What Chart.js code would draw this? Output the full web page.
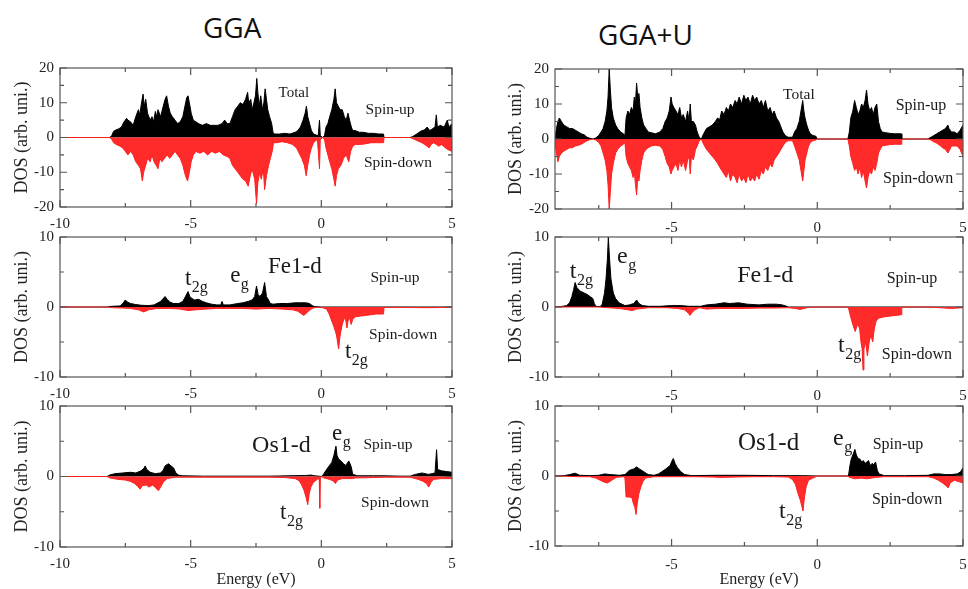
<!DOCTYPE html>
<html><head><meta charset="utf-8">
<script src="https://cdn.jsdelivr.net/npm/chart.js@4.4.1/dist/chart.umd.min.js"></script>
<style>
html,body{margin:0;padding:0;background:#fff;}
#wrap{position:relative;width:968px;height:589px;overflow:hidden;background:#fff;}
canvas{position:absolute;}
.title{position:absolute;font-family:"Open Sans",sans-serif;color:#111;white-space:nowrap;line-height:1;}
</style></head><body>
<div id="wrap">
<div class="title" style="left:203px;top:13px;font-size:28px">GGA</div>
<div class="title" style="left:598px;top:20px;font-size:28px">GGA+U</div>
<canvas id="c1" width="470" height="186" style="left:0;top:50px"></canvas>
<canvas id="c2" width="470" height="177" style="left:0;top:228px"></canvas>
<canvas id="c3" width="470" height="192" style="left:0;top:397px"></canvas>
<canvas id="c4" width="478" height="186" style="left:490px;top:50px"></canvas>
<canvas id="c5" width="478" height="177" style="left:490px;top:228px"></canvas>
<canvas id="c6" width="478" height="192" style="left:490px;top:397px"></canvas>
</div>
<script>
// ---------- tick labels ----------
const ggaXTicks = [-10, -5, 0, 5];
const ggaUXTicks = [-5, 0, 5];
const xMinorTicks = [-7.5, -2.5, 2.5];
const totYTicks = [-20, -10, 0, 10, 20];
const totYMinor = [-15, -5, 5, 15];
const pdosYTicks = [-10, 0, 10];
const pdosYMinor = [-5, 5];

// ---------- GGA total DOS [E (eV), DOS] ----------
const ggaTotUp = [[-10,0],[-8.1,0],[-8.02,0.5],[-7.95,1.8],[-7.85,2.2],[-7.75,2.5],[-7.65,3],[-7.55,4.5],[-7.45,5.5],[-7.4,5],[-7.3,4.5],[-7.2,3.5],[-7.1,6],[-7.0,8],[-6.95,6.5],[-6.88,10],[-6.82,12.5],[-6.78,9],[-6.72,11],[-6.65,7],[-6.55,5],[-6.48,6],[-6.42,4.5],[-6.35,7.5],[-6.3,6],[-6.25,8],[-6.15,6],[-6.05,9],[-5.98,11],[-5.92,12],[-5.85,9],[-5.78,7],[-5.7,6],[-5.6,5],[-5.5,4],[-5.4,4.5],[-5.3,6],[-5.22,9],[-5.15,11.5],[-5.1,12],[-5.05,10],[-4.98,7],[-4.9,5],[-4.8,4.5],[-4.7,4],[-4.55,3.5],[-4.4,4],[-4.25,3.5],[-4.1,3.5],[-3.95,3.5],[-3.8,4],[-3.7,5],[-3.6,4],[-3.5,4],[-3.4,6],[-3.3,8],[-3.2,9],[-3.1,10],[-3.0,9.5],[-2.9,11],[-2.82,13],[-2.78,10],[-2.7,11],[-2.65,8],[-2.58,10],[-2.52,12],[-2.47,17],[-2.43,13],[-2.38,9],[-2.32,12],[-2.25,8],[-2.2,10],[-2.15,14],[-2.1,11],[-2.05,8],[-1.98,6],[-1.9,4],[-1.85,1.5],[-1.8,1],[-1.6,1],[-1.4,1.2],[-1.2,1],[-1.0,1.5],[-0.9,2],[-0.8,3],[-0.7,5],[-0.62,7],[-0.57,9],[-0.52,6],[-0.45,4],[-0.38,2],[-0.3,1],[-0.12,0.5],[-0.07,5],[-0.04,0.5],[0.05,0],[0.12,0.5],[0.18,3],[0.25,4],[0.32,6],[0.4,8],[0.48,11],[0.53,14],[0.58,10],[0.65,9],[0.72,8],[0.8,8],[0.88,6],[0.95,5],[1.02,7],[1.08,5],[1.15,3],[1.2,2],[1.3,2],[1.45,1.5],[1.6,1.5],[1.8,1.2],[2.0,1.2],[2.2,1],[2.38,1],[2.4,0],[3.4,0],[3.5,0.3],[3.65,1],[3.8,1.8],[3.95,2.2],[4.05,3],[4.15,2],[4.25,2.5],[4.35,3],[4.4,6.5],[4.44,3],[4.55,3.5],[4.7,3],[4.82,5],[4.88,3],[5.0,4]];
const ggaTotDn = [[-10,0],[-8.1,0],[-8.02,-0.5],[-7.95,-1.5],[-7.85,-2],[-7.7,-2.5],[-7.6,-3],[-7.5,-4],[-7.4,-5],[-7.3,-4],[-7.2,-5],[-7.1,-7],[-7.0,-8],[-6.92,-9],[-6.85,-12.5],[-6.8,-10],[-6.72,-8],[-6.65,-6],[-6.55,-7],[-6.48,-5],[-6.4,-7],[-6.32,-8],[-6.25,-9],[-6.18,-6],[-6.1,-7],[-6.0,-6],[-5.9,-5],[-5.8,-6],[-5.7,-5],[-5.6,-4],[-5.5,-5],[-5.4,-6],[-5.3,-8],[-5.2,-11],[-5.12,-12.5],[-5.05,-10],[-4.98,-7],[-4.9,-5],[-4.8,-4],[-4.65,-4.5],[-4.5,-4],[-4.35,-5],[-4.2,-4],[-4.05,-4.5],[-3.9,-4],[-3.75,-5],[-3.6,-5.5],[-3.5,-6],[-3.4,-8],[-3.3,-9],[-3.2,-10],[-3.1,-11],[-3.0,-12],[-2.9,-12.5],[-2.8,-14],[-2.72,-11],[-2.65,-9],[-2.55,-12],[-2.48,-19],[-2.43,-13],[-2.36,-10],[-2.3,-12],[-2.22,-9],[-2.17,-15],[-2.1,-11],[-2.02,-8],[-1.95,-6],[-1.88,-4],[-1.83,-1.5],[-1.7,-1.5],[-1.5,-1.2],[-1.3,-1.5],[-1.1,-2],[-0.95,-3],[-0.85,-4.5],[-0.75,-6],[-0.65,-8],[-0.58,-11],[-0.52,-8],[-0.45,-5],[-0.38,-3],[-0.3,-1.5],[-0.15,-0.5],[-0.07,-9],[-0.04,-0.5],[0.05,0],[0.12,-0.5],[0.18,-3],[0.25,-5],[0.32,-7],[0.4,-9],[0.48,-12],[0.53,-14],[0.58,-11],[0.65,-9],[0.75,-8],[0.85,-6],[0.95,-5],[1.05,-7],[1.12,-4],[1.2,-2.5],[1.3,-2],[1.5,-2],[1.7,-1.8],[1.9,-1.5],[2.1,-1.5],[2.38,-1.5],[2.4,0],[3.4,0],[3.55,-0.5],[3.7,-1],[3.85,-1.5],[3.95,-2],[4.05,-2.5],[4.12,-3],[4.2,-2],[4.3,-1.5],[4.4,-2],[4.5,-2.5],[4.6,-2],[4.75,-3],[4.85,-3.5],[5.0,-4]];

// ---------- GGA Fe1-d ----------
const ggaFeUp = [[-10,0],[-8.2,0],[-8.0,0.1],[-7.7,0.15],[-7.6,0.5],[-7.5,1],[-7.42,0.7],[-7.3,0.5],[-7.1,0.35],[-6.9,0.25],[-6.6,0.2],[-6.4,0.3],[-6.25,0.6],[-6.15,0.8],[-6.05,1.2],[-5.98,1.5],[-5.9,1.1],[-5.8,0.7],[-5.65,0.5],[-5.45,0.5],[-5.3,0.8],[-5.2,1.5],[-5.1,2.2],[-5.03,1.5],[-4.95,1.2],[-4.85,1.0],[-4.7,1.1],[-4.55,0.8],[-4.4,0.6],[-4.2,0.4],[-4.0,0.3],[-3.85,0.3],[-3.8,0.8],[-3.75,0.3],[-3.5,0.3],[-3.2,0.5],[-3.0,0.6],[-2.8,0.8],[-2.65,1.0],[-2.55,1.5],[-2.48,3],[-2.42,1.8],[-2.35,1.5],[-2.25,2],[-2.17,3.5],[-2.1,1.5],[-2.02,1.0],[-1.95,0.5],[-1.85,0.4],[-1.6,0.5],[-1.3,0.5],[-1.0,0.6],[-0.8,0.6],[-0.6,0.6],[-0.45,0.5],[-0.35,0.2],[-0.25,0.05],[0,0],[5,0]];
const ggaFeDn = [[-10,0],[-8.2,0],[-8.0,-0.1],[-7.6,-0.15],[-7.3,-0.2],[-7.0,-0.4],[-6.8,-0.7],[-6.6,-0.4],[-6.3,-0.2],[-5.8,-0.2],[-5.4,-0.3],[-5.1,-0.5],[-4.8,-0.4],[-4.4,-0.3],[-4.0,-0.2],[-3.5,-0.2],[-3.0,-0.2],[-2.5,-0.3],[-2.0,-0.2],[-1.5,-0.3],[-1.1,-0.4],[-0.9,-0.6],[-0.75,-1.0],[-0.68,-1.2],[-0.6,-1.0],[-0.5,-0.6],[-0.35,-0.2],[-0.2,-0.05],[0.05,-0.1],[0.2,-0.3],[0.3,-1],[0.4,-2],[0.5,-3],[0.58,-4],[0.66,-6],[0.72,-4],[0.8,-2.5],[0.88,-1.5],[0.94,-2],[0.98,-3],[1.02,-2],[1.08,-1.5],[1.14,-2.5],[1.2,-1.8],[1.3,-1.4],[1.5,-1.3],[1.7,-1.2],[1.9,-1.1],[2.1,-1.0],[2.38,-1.0],[2.4,-0.05],[3.0,-0.05],[4.0,-0.1],[5,-0.05]];

// ---------- GGA Os1-d ----------
const ggaOsUp = [[-10,0],[-8.2,0],[-8.1,0.2],[-7.9,0.4],[-7.6,0.5],[-7.3,0.6],[-7.1,0.5],[-6.9,0.8],[-6.78,1.2],[-6.74,1.5],[-6.68,1.0],[-6.55,0.6],[-6.35,0.4],[-6.15,0.5],[-6.05,0.9],[-5.98,1.5],[-5.9,1.7],[-5.85,1.8],[-5.75,1.5],[-5.65,1.2],[-5.58,0.6],[-5.48,0.2],[-5.3,0.1],[-4.5,0.05],[-3.0,0.05],[-2.0,0.05],[-1.2,0.1],[-0.6,0.15],[-0.4,0.2],[-0.25,0.1],[0,0],[0.08,0.3],[0.2,1.0],[0.3,1.5],[0.4,2.0],[0.48,3],[0.56,4.3],[0.6,3],[0.66,2.5],[0.75,2.2],[0.85,1.8],[0.92,1.6],[0.98,1.8],[1.05,2.2],[1.1,1.8],[1.15,1.3],[1.2,0.3],[1.4,0.1],[2.0,0.1],[2.4,0.1],[3.0,0.05],[3.4,0.05],[3.6,0.3],[3.85,0.5],[4.1,0.3],[4.35,0.5],[4.41,3.8],[4.45,1.0],[4.6,0.8],[4.8,0.7],[5,0.6]];
const ggaOsDn = [[-10,0],[-8.2,0],[-8.1,-0.2],[-7.8,-0.4],[-7.5,-0.5],[-7.3,-0.7],[-7.15,-1.0],[-7.05,-1.3],[-6.93,-1.8],[-6.85,-1.3],[-6.7,-1.2],[-6.6,-1.5],[-6.45,-1.2],[-6.35,-1.6],[-6.23,-2.0],[-6.15,-1.5],[-6.05,-0.8],[-5.9,-0.3],[-5.6,-0.1],[-4.5,-0.1],[-3.0,-0.1],[-2.0,-0.1],[-1.4,-0.15],[-1.0,-0.3],[-0.85,-0.6],[-0.75,-1.2],[-0.66,-2],[-0.58,-3],[-0.52,-4],[-0.47,-2.5],[-0.4,-1.5],[-0.3,-0.8],[-0.15,-0.4],[-0.08,-0.3],[-0.06,-4.5],[-0.04,-0.2],[0,0],[0.1,-0.2],[0.3,-0.4],[0.45,-0.6],[0.54,-1.0],[0.62,-0.5],[0.8,-0.3],[1.2,-0.3],[1.3,-0.2],[2.0,-0.15],[2.4,-0.1],[3.4,-0.1],[3.7,-0.4],[3.9,-0.7],[4.02,-1.0],[4.11,-1.5],[4.2,-0.8],[4.3,-0.4],[4.6,-0.3],[5,-0.3]];

// ---------- GGA+U total DOS ----------
const guTotUp = [[-9,0.5],[-8.95,3],[-8.9,5],[-8.85,6],[-8.78,5],[-8.7,4],[-8.6,3.5],[-8.5,3],[-8.4,3],[-8.3,2.5],[-8.2,2],[-8.1,1.5],[-8.0,1.2],[-7.9,0.5],[-7.8,0.2],[-7.7,0],[-7.6,0.3],[-7.5,1],[-7.42,2],[-7.35,3],[-7.28,5],[-7.22,8],[-7.18,12],[-7.14,20],[-7.1,14],[-7.06,9],[-7.0,6],[-6.92,4],[-6.85,3],[-6.75,2],[-6.65,1.5],[-6.6,1],[-6.56,6],[-6.5,8],[-6.44,7],[-6.38,9],[-6.32,8],[-6.28,12],[-6.24,10],[-6.2,16],[-6.16,12],[-6.12,13],[-6.08,9],[-6.02,6],[-5.96,4],[-5.88,3],[-5.8,2],[-5.7,1.8],[-5.55,1.5],[-5.4,2],[-5.3,3],[-5.22,5],[-5.15,6],[-5.08,8],[-5.02,12],[-4.98,10],[-4.92,9],[-4.85,8],[-4.78,7],[-4.72,9],[-4.66,6],[-4.6,7],[-4.52,5],[-4.45,8],[-4.4,5],[-4.36,10],[-4.32,5],[-4.25,5],[-4.18,4],[-4.12,2],[-4.05,0.5],[-3.98,0],[-3.9,1.5],[-3.8,3],[-3.7,3.5],[-3.6,4],[-3.5,5],[-3.42,6],[-3.35,5.5],[-3.28,8],[-3.2,7],[-3.12,9],[-3.05,8],[-2.98,10],[-2.9,9],[-2.82,11],[-2.75,10],[-2.68,12],[-2.6,10],[-2.52,12.5],[-2.45,11],[-2.38,12],[-2.3,10],[-2.22,12.5],[-2.15,11],[-2.08,12],[-2.0,10],[-1.92,11],[-1.85,9],[-1.78,11],[-1.7,8],[-1.62,9],[-1.55,7],[-1.48,8],[-1.4,6],[-1.32,5],[-1.25,3.5],[-1.18,2],[-1.1,1],[-1.0,0.5],[-0.85,0.5],[-0.78,2],[-0.7,3],[-0.62,5],[-0.56,8],[-0.5,11],[-0.46,8],[-0.42,6],[-0.36,4],[-0.3,2.5],[-0.24,1.5],[-0.15,1],[-0.05,0.8],[0,0],[1.05,0],[1.1,2],[1.15,6],[1.22,8],[1.28,11],[1.34,9],[1.4,7],[1.46,8],[1.52,10],[1.58,9],[1.64,11],[1.69,14],[1.74,10],[1.8,8],[1.86,9],[1.92,7],[1.98,9],[2.04,10],[2.1,5],[2.16,3],[2.22,2],[2.35,1.8],[2.5,1.6],[2.65,1.5],[2.8,1.5],[2.88,1.5],[2.9,0],[3.8,0],[3.9,0.5],[4.0,1],[4.1,1.5],[4.2,2],[4.3,2.5],[4.4,3],[4.48,4],[4.52,3],[4.6,2],[4.7,2],[4.8,1.5],[4.9,2.5],[5.0,4]];
const guTotDn = [[-9,-1],[-8.95,-4],[-8.9,-6.5],[-8.85,-5],[-8.78,-4],[-8.7,-3.5],[-8.6,-3],[-8.5,-2.5],[-8.4,-2.5],[-8.3,-2],[-8.2,-1.8],[-8.1,-1.5],[-8.0,-1],[-7.9,-0.5],[-7.8,-0.2],[-7.7,0],[-7.6,-0.3],[-7.5,-1],[-7.42,-2],[-7.35,-4],[-7.28,-6],[-7.22,-9],[-7.18,-13],[-7.14,-20],[-7.1,-15],[-7.06,-10],[-7.0,-7],[-6.92,-4],[-6.85,-3],[-6.75,-2],[-6.65,-1.5],[-6.6,-1],[-6.56,-5],[-6.5,-7],[-6.44,-8],[-6.38,-9],[-6.32,-11],[-6.28,-9],[-6.24,-13],[-6.2,-16],[-6.16,-11],[-6.12,-12],[-6.08,-9],[-6.02,-6],[-5.96,-4],[-5.88,-3],[-5.8,-2.5],[-5.7,-2],[-5.55,-1.8],[-5.4,-2],[-5.3,-3],[-5.22,-5],[-5.15,-7],[-5.08,-8],[-5.02,-10],[-4.98,-9],[-4.92,-8],[-4.85,-7],[-4.78,-9],[-4.72,-6],[-4.66,-8],[-4.6,-6],[-4.52,-9],[-4.45,-6],[-4.4,-5],[-4.36,-10],[-4.32,-5],[-4.25,-6],[-4.18,-3],[-4.12,-2],[-4.05,-0.5],[-3.98,0],[-3.9,-1.5],[-3.8,-3],[-3.7,-4],[-3.6,-5],[-3.5,-6],[-3.42,-7],[-3.35,-8],[-3.28,-9],[-3.2,-10],[-3.12,-11],[-3.05,-9],[-2.98,-12],[-2.9,-10],[-2.82,-11],[-2.75,-12.5],[-2.68,-10],[-2.6,-12],[-2.52,-11],[-2.45,-12.5],[-2.38,-10],[-2.3,-12],[-2.22,-11],[-2.15,-12],[-2.08,-10],[-2.0,-11.5],[-1.92,-9],[-1.85,-10],[-1.78,-8],[-1.7,-9],[-1.62,-7],[-1.55,-8],[-1.48,-6],[-1.4,-5],[-1.32,-4],[-1.25,-3],[-1.18,-2],[-1.1,-1],[-1.0,-0.5],[-0.85,-0.5],[-0.78,-2],[-0.7,-4],[-0.62,-6],[-0.56,-9],[-0.5,-12],[-0.46,-9],[-0.42,-6],[-0.36,-4],[-0.3,-2],[-0.24,-1],[-0.15,-0.5],[-0.05,-0.3],[0,0],[1.05,0],[1.1,-2],[1.15,-5],[1.22,-7],[1.28,-9],[1.34,-8],[1.4,-10],[1.46,-8],[1.52,-11],[1.58,-9],[1.64,-12],[1.69,-14],[1.74,-11],[1.8,-9],[1.86,-10],[1.92,-8],[1.98,-9],[2.04,-7],[2.1,-4],[2.16,-3],[2.22,-2],[2.35,-1.8],[2.5,-1.6],[2.65,-1.5],[2.8,-1.5],[2.88,-1.5],[2.9,0],[3.8,0],[3.9,-0.3],[4.0,-0.8],[4.1,-1.2],[4.2,-1.8],[4.3,-2.5],[4.4,-3],[4.48,-4],[4.55,-3],[4.6,-2],[4.7,-2],[4.8,-2],[4.9,-3],[5.0,-5]];

// ---------- GGA+U Fe1-d ----------
const guFeUp = [[-9,0],[-8.8,0.05],[-8.6,0.2],[-8.5,0.6],[-8.42,1.5],[-8.36,2.5],[-8.31,3.5],[-8.25,2.8],[-8.15,2.3],[-8.0,2.0],[-7.9,1.8],[-7.8,1.5],[-7.7,1.2],[-7.65,0.5],[-7.6,0.1],[-7.45,0.05],[-7.38,0.4],[-7.3,2],[-7.25,4],[-7.2,7],[-7.17,10],[-7.13,7],[-7.08,4],[-7.0,2],[-6.92,1.2],[-6.8,0.6],[-6.6,0.2],[-6.45,0.3],[-6.3,0.5],[-6.2,1.0],[-6.12,0.5],[-6.0,0.2],[-5.8,0.1],[-5.4,0.1],[-5.0,0.2],[-4.7,0.2],[-4.4,0.1],[-4.0,0.1],[-3.8,0.3],[-3.5,0.4],[-3.2,0.6],[-3.0,0.5],[-2.7,0.6],[-2.4,0.4],[-2.0,0.3],[-1.7,0.4],[-1.4,0.4],[-1.2,0.3],[-1.05,0.1],[-1.0,0],[5,0]];
const guFeDn = [[-9,0],[-7.5,0],[-7.2,-0.1],[-6.8,-0.2],[-6.5,-0.4],[-6.35,-0.5],[-6.2,-0.3],[-5.8,-0.1],[-5.2,-0.1],[-4.8,-0.2],[-4.55,-0.4],[-4.42,-0.9],[-4.37,-1.2],[-4.3,-0.8],[-4.2,-0.4],[-4.05,-0.1],[-3.8,-0.3],[-3.4,-0.2],[-3.0,-0.2],[-2.5,-0.2],[-2.0,-0.15],[-1.5,-0.15],[-1.0,-0.1],[-0.75,-0.2],[-0.6,-0.35],[-0.45,-0.2],[-0.3,-0.05],[0,0],[1.05,0],[1.08,-0.3],[1.15,-1.5],[1.22,-2.5],[1.3,-3.5],[1.38,-2.5],[1.45,-3],[1.5,-5],[1.54,-6],[1.57,-9],[1.6,-6],[1.66,-5],[1.72,-7],[1.78,-5],[1.84,-4],[1.9,-5],[1.96,-3],[2.02,-2],[2.1,-1.6],[2.3,-1.4],[2.5,-1.3],[2.7,-1.2],[2.88,-1.1],[2.9,0],[3.8,0],[4.2,-0.1],[4.6,-0.2],[5,-0.1]];

// ---------- GGA+U Os1-d ----------
const guOsUp = [[-9,0],[-8.7,0.05],[-8.5,0.2],[-8.31,0.4],[-8.15,0.1],[-7.8,0.05],[-7.5,0.1],[-7.3,0.3],[-7.1,0.2],[-6.8,0.1],[-6.6,0.2],[-6.45,0.8],[-6.3,1.0],[-6.2,1.3],[-6.1,1.0],[-5.95,0.6],[-5.8,0.2],[-5.6,0.1],[-5.45,0.3],[-5.34,0.6],[-5.2,1.0],[-5.05,1.5],[-4.98,2.2],[-4.94,2.5],[-4.88,1.8],[-4.8,1.2],[-4.68,0.6],[-4.55,0.2],[-4.3,0.05],[-3.5,0.1],[-2.5,0.1],[-1.5,0.05],[-0.5,0.05],[0,0],[1.05,0],[1.08,0.3],[1.12,1.5],[1.17,2.5],[1.24,3.2],[1.29,3.8],[1.34,3.0],[1.4,2.5],[1.47,2.4],[1.52,2.0],[1.58,2.2],[1.64,1.8],[1.7,2.0],[1.76,2.2],[1.82,1.5],[1.88,1.8],[1.94,1.6],[2.0,2.0],[2.06,0.8],[2.12,0.3],[2.3,0.05],[3.0,0.05],[3.8,0.1],[4.0,0.3],[4.2,0.3],[4.4,0.2],[4.6,0.2],[4.8,0.3],[4.92,0.6],[5,1.2]];
const guOsDn = [[-9,0],[-8.6,-0.05],[-8.2,-0.1],[-7.8,-0.1],[-7.6,-0.3],[-7.45,-0.6],[-7.3,-0.9],[-7.2,-1.0],[-7.05,-0.6],[-6.9,-0.2],[-6.65,-0.1],[-6.6,-0.3],[-6.56,-3.0],[-6.45,-3.0],[-6.36,-3.1],[-6.32,-3.8],[-6.26,-4.5],[-6.22,-5.5],[-6.18,-4.0],[-6.12,-2.5],[-6.05,-1.5],[-5.98,-0.8],[-5.9,-0.3],[-5.6,-0.1],[-4.8,-0.1],[-4.2,-0.1],[-3.6,-0.15],[-3.3,-0.2],[-2.8,-0.15],[-2.2,-0.1],[-1.5,-0.1],[-1.0,-0.15],[-0.85,-0.5],[-0.75,-1.2],[-0.66,-2.5],[-0.58,-3.5],[-0.52,-4.5],[-0.49,-5.0],[-0.44,-3],[-0.38,-1.5],[-0.3,-0.6],[-0.15,-0.3],[0,0],[1.05,0],[1.1,-0.2],[1.3,-0.4],[1.5,-0.3],[1.7,-0.4],[2.0,-0.2],[2.3,-0.1],[3.8,-0.1],[4.0,-0.3],[4.15,-0.6],[4.3,-1.0],[4.42,-1.4],[4.49,-1.7],[4.56,-1.0],[4.7,-0.6],[4.85,-0.8],[5,-1.0]];

// ---------- text labels ----------
const SERIF = '"Liberation Serif","Times New Roman",serif';
const ggaTotLabels = [
  {text:'Total', e:-1.05, d:12.8, size:15, align:'center', base:'middle'},
  {text:'Spin-up', e:2.63, d:7.9, size:15.5, align:'center', base:'middle'},
  {text:'Spin-down', e:2.93, d:-7.3, size:15.5, align:'center', base:'middle'}];
const guTotLabels = [
  {text:'Total', e:-0.63, d:12.5, size:15.5, align:'center', base:'middle'},
  {text:'Spin-up', e:3.56, d:9.6, size:16, align:'center', base:'middle'},
  {text:'Spin-down', e:3.46, d:-11.4, size:16, align:'center', base:'middle'}];
const ggaFeLabels = [
  {text:'t', sub:'2g', e:-5.22, d:3.14, size:23},
  {text:'e', sub:'g', e:-3.49, d:3.57, size:23},
  {text:'Fe1-d', e:-2.04, d:4.86, size:23},
  {text:'Spin-up', e:2.82, d:4.14, size:15.5, align:'center', base:'middle'},
  {text:'Spin-down', e:3.13, d:-4.0, size:15.5, align:'center', base:'middle'},
  {text:'t', sub:'2g', e:0.905, d:-7.29, size:23}];
const guFeLabels = [
  {text:'t', sub:'2g', e:-8.49, d:4.14, size:24},
  {text:'e', sub:'g', e:-6.87, d:6.29, size:24},
  {text:'Fe1-d', e:-2.75, d:3.57, size:24},
  {text:'Spin-up', e:3.25, d:4.0, size:16, align:'center', base:'middle'},
  {text:'t', sub:'2g', e:0.71, d:-6.43, size:24},
  {text:'Spin-down', e:3.42, d:-6.86, size:16, align:'center', base:'middle'}];
const ggaOsLabels = [
  {text:'Os1-d', e:-2.65, d:3.43, size:24},
  {text:'e', sub:'g', e:0.41, d:5.14, size:23},
  {text:'Spin-up', e:2.55, d:4.43, size:15.5, align:'center', base:'middle'},
  {text:'Spin-down', e:2.82, d:-3.71, size:15.5, align:'center', base:'middle'},
  {text:'t', sub:'2g', e:-1.58, d:-6.0, size:23}];
const guOsLabels = [
  {text:'Os1-d', e:-2.72, d:3.71, size:25},
  {text:'e', sub:'g', e:0.54, d:4.43, size:24},
  {text:'Spin-up', e:2.77, d:4.43, size:16, align:'center', base:'middle'},
  {text:'Spin-down', e:3.08, d:-3.43, size:16, align:'center', base:'middle'},
  {text:'t', sub:'2g', e:-1.31, d:-6.0, size:24}];

// ---------- frame / inward ticks / labels plugin ----------
const framePlugin = {
  id: 'frame',
  afterDraw(chart, args, o) {
    const {ctx, chartArea: a, scales: {x, y}} = chart;
    ctx.save();
    ctx.strokeStyle = '#555';
    ctx.lineWidth = 1.2;
    ctx.strokeRect(a.left, a.top, a.right - a.left, a.bottom - a.top);
    ctx.beginPath();
    const tx = (v, len) => { const p = x.getPixelForValue(v); ctx.moveTo(p, a.top); ctx.lineTo(p, a.top + len); ctx.moveTo(p, a.bottom); ctx.lineTo(p, a.bottom - len); };
    const ty = (v, len) => { const p = y.getPixelForValue(v); ctx.moveTo(a.left, p); ctx.lineTo(a.left + len, p); ctx.moveTo(a.right, p); ctx.lineTo(a.right - len, p); };
    o.xMajor.forEach(v => tx(v, 7));
    o.xMinor.forEach(v => tx(v, 4));
    o.yMajor.forEach(v => ty(v, 7));
    o.yMinor.forEach(v => ty(v, 4));
    ctx.stroke();
    ctx.fillStyle = '#1a1a1a';
    (o.labels || []).forEach(l => {
      const px = x.getPixelForValue(l.e), py = y.getPixelForValue(l.d);
      ctx.font = l.size + 'px ' + SERIF;
      ctx.textAlign = l.align || 'left';
      ctx.textBaseline = l.base || 'alphabetic';
      ctx.fillText(l.text, px, py);
      if (l.sub) {
        const w = ctx.measureText(l.text).width;
        ctx.font = Math.round(l.size * 0.68) + 'px ' + SERIF;
        ctx.textAlign = 'left';
        ctx.fillText(l.sub, px + w + 0.5, py + l.size * 0.3);
      }
    });
    ctx.restore();
  }
};

function toPts(arr) { return arr.map(p => ({x: p[0], y: p[1]})); }

function makePanel(id, up, dn, cfg) {
  const tickFont = {family: SERIF, size: 15};
  new Chart(document.getElementById(id), {
    type: 'line',
    data: {
      datasets: [
        {data: toPts(dn), borderColor: '#ff1f1f', backgroundColor: '#ff2a2a', borderWidth: 1, pointRadius: 0, fill: 'origin', tension: 0},
        {data: toPts(up), borderColor: '#000', backgroundColor: '#000', borderWidth: 1, pointRadius: 0, fill: 'origin', tension: 0}
      ]
    },
    options: {
      responsive: false, animation: false, devicePixelRatio: 1,
      layout: {padding: {top: cfg.padTop, right: cfg.padRight, left: 0, bottom: 0}},
      plugins: {legend: {display: false}, tooltip: {enabled: false},
        frame: {xMajor: cfg.xTicks, xMinor: xMinorTicks, yMajor: cfg.yTicks, yMinor: cfg.yMinor, labels: cfg.labels}},
      scales: {
        x: {type: 'linear', min: cfg.xMin, max: cfg.xMax,
          grid: {display: false, drawTicks: false}, border: {display: false},
          ticks: {font: tickFont, color: '#222', padding: cfg.xPad, maxRotation: 0, autoSkip: false},
          afterBuildTicks: s => { s.ticks = cfg.xTicks.map(v => ({value: v})); },
          afterFit: s => { s.height = cfg.xH; s.paddingLeft = 0; s.paddingRight = 0; },
          title: {display: cfg.xTitle, text: 'Energy (eV)', font: {family: SERIF, size: 16}, color: '#222', padding: {top: 0, bottom: 0}}
        },
        y: {type: 'linear', min: cfg.yMin, max: cfg.yMax,
          grid: {display: false, drawTicks: false}, border: {display: false},
          ticks: {font: tickFont, color: '#222', padding: 6},
          afterBuildTicks: s => { s.ticks = cfg.yTicks.map(v => ({value: v})); },
          afterFit: s => { s.width = cfg.yW; s.paddingTop = 0; s.paddingBottom = 0; },
          title: {display: true, text: 'DOS (arb. uni.)', font: {family: SERIF, size: 18}, color: '#222', padding: {top: cfg.yTitlePad, bottom: 0}}
        }
      }
    },
    plugins: [framePlugin]
  });
}

const L = {xMin: -10, xMax: 5, xTicks: ggaXTicks, yW: 60, padRight: 18, yTitlePad: 11, xPad: 8};
const R = {xMin: -9, xMax: 5, xTicks: ggaUXTicks, yW: 65, padRight: 5, yTitlePad: 15, xPad: 10};
const TOT = {yMin: -20, yMax: 20, yTicks: totYTicks, yMinor: totYMinor};
const PD = {yMin: -10, yMax: 10, yTicks: pdosYTicks, yMinor: pdosYMinor};

makePanel('c1', ggaTotUp, ggaTotDn, Object.assign({}, L, TOT, {padTop: 18, xH: 29, xTitle: false, labels: ggaTotLabels}));
makePanel('c2', ggaFeUp, ggaFeDn, Object.assign({}, L, PD, {padTop: 9, xH: 28, xTitle: false, labels: ggaFeLabels}));
makePanel('c3', ggaOsUp, ggaOsDn, Object.assign({}, L, PD, {padTop: 9, xH: 42, xTitle: true, labels: ggaOsLabels}));
makePanel('c4', guTotUp, guTotDn, Object.assign({}, R, TOT, {padTop: 19, xH: 27, xTitle: false, labels: guTotLabels}));
makePanel('c5', guFeUp, guFeDn, Object.assign({}, R, PD, {padTop: 9, xH: 28, xTitle: false, labels: guFeLabels}));
makePanel('c6', guOsUp, guOsDn, Object.assign({}, R, PD, {padTop: 9, xH: 43, xTitle: true, labels: guOsLabels}));
</script>
</body></html>
